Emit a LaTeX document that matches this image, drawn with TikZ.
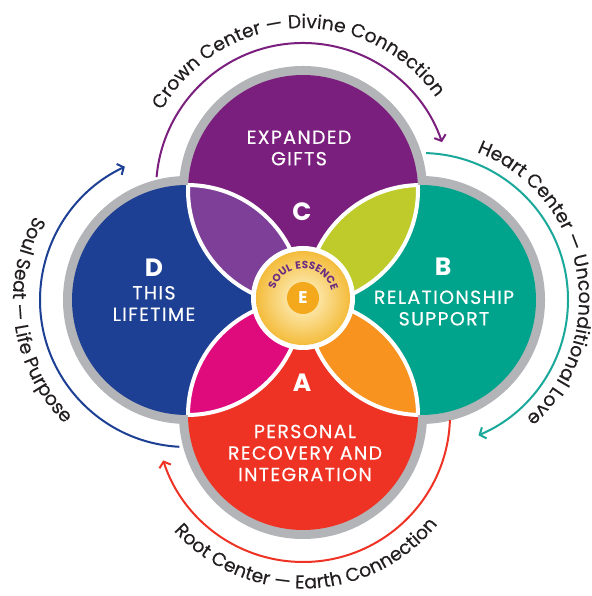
\documentclass[tikz,border=0pt]{standalone}
\usepackage{fontspec}
\setmainfont{Poppins}
\newfontfamily\medfam{Poppins}[FakeBold=0.4,LetterSpace=7]
\newfontfamily\arcfam{Poppins}[FakeBold=0.25]
\newfontfamily\soulfam{Poppins}[LetterSpace=12]
\usetikzlibrary{arrows.meta,decorations.text,calc}
\definecolor{cC}{HTML}{7B1F7E}
\definecolor{cD}{HTML}{1D3F94}
\definecolor{cB}{HTML}{00A38B}
\definecolor{cA}{HTML}{EE3325}
\definecolor{pV}{HTML}{7D3F98}
\definecolor{pL}{HTML}{BFCB2B}
\definecolor{pO}{HTML}{F7931E}
\definecolor{pM}{HTML}{DF0A7C}
\definecolor{ring}{HTML}{B3B4B7}
\definecolor{ateal}{HTML}{1AA89A}
\definecolor{soulc}{HTML}{6B2D82}
\definecolor{eorange}{HTML}{F4A91D}
\definecolor{gold}{HTML}{F4BC3C}
\definecolor{pale}{HTML}{FFF7D2}
\definecolor{txt}{HTML}{231F20}
\newcommand\lblfont{\medfam\fontsize{19}{21.5}\selectfont}
\newcommand\ltrfont{\fontsize{25}{25}\selectfont\bfseries}
\newcommand\arcfont{\arcfam\fontsize{18.8}{19}\selectfont\color{txt}}
\newcommand\soulfont{\soulfam\fontsize{10.5}{11}\selectfont\bfseries\color{soulc}}
\begin{document}
\begin{tikzpicture}[x=1pt,y=1pt,
  lbl/.style={text=white,font=\lblfont,align=center,inner sep=0pt},
  ltr/.style={text=white,font=\ltrfont,inner sep=0pt},
  wline/.style={white,line width=4pt},
  arr/.style={line width=2pt,-{Straight Barb[length=5pt,width=12pt]}},
  arctext/.style={decorate,decoration={text along path,text align=center,text={#1}}}]
\fill[white] (0,0) rectangle (591,596);
\useasboundingbox (0,0) rectangle (591,596);
\def\R{115}
\def\G{124}
\coordinate (O) at (303,298);
\coordinate (N) at (303,406);
\coordinate (S) at (303,181);
\coordinate (W) at (187,296);
\coordinate (E) at (421,296);
% gray rings
\foreach \c in {N,S,W,E} \fill[ring] (\c) circle (\G);
% main discs
\fill[cC] (N) circle (\R);
\fill[cB] (E) circle (\R);
\fill[cA] (S) circle (\R);
\fill[cD] (W) circle (\R);
% petals
\begin{scope}\clip (N) circle (\R); \fill[pV] (W) circle (\R); \fill[pL] (E) circle (\R);\end{scope}
\begin{scope}\clip (S) circle (\R); \fill[pM] (W) circle (\R); \fill[pO] (E) circle (\R);\end{scope}
% white petal borders
\begin{scope}\clip (N) circle (\R); \draw[wline] (W) circle (\R); \draw[wline] (E) circle (\R);\end{scope}
\begin{scope}\clip (S) circle (\R); \draw[wline] (W) circle (\R); \draw[wline] (E) circle (\R);\end{scope}
\begin{scope}\clip (W) circle (\R); \draw[wline] (N) circle (\R); \draw[wline] (S) circle (\R);\end{scope}
\begin{scope}\clip (E) circle (\R); \draw[wline] (N) circle (\R); \draw[wline] (S) circle (\R);\end{scope}
% soul essence
\fill[white] (O) circle (52);
\shade[inner color=pale,outer color=gold] (O) circle (47);
\fill[eorange] (O) circle (16);
\node[ltr,font=\fontsize{17}{17}\selectfont\bfseries] (eL) at (O) {E};
\path[arctext={|\soulfont|SOUL ESSENCE}] ($(O)+(179:29.5)$) arc[start angle=179,end angle=-1,radius=29.5];
% labels
\node[lbl] (cT) at (299,448) {EXPANDED\\GIFTS};
\node[ltr] (cL) at (302,384) {C};
\node[ltr] (dL) at (154,328) {D};
\node[lbl] (dT) at (154,292.5) {THIS\\LIFETIME};
\node[ltr] (bL) at (443,329) {B};
\node[lbl] (bT) at (444,288) {RELATIONSHIP\\SUPPORT};
\node[ltr] (aL) at (302,213) {A};
\node[lbl] (aT) at (305,143) {PERSONAL\\RECOVERY AND\\INTEGRATION};
% arrow arcs
\draw[arr,cC] ($(N)+(175:147)$) arc[start angle=175,end angle=19,radius=147];
\draw[arr,ateal] ($(E)+(88:147)$) arc[start angle=88,end angle=-67,radius=147];
\draw[arr,cA] ($(S)+(-2:147)$) arc[start angle=-2,end angle=-162,radius=147];
\draw[arr,cD] ($(W)+(267:147)$) arc[start angle=267,end angle=115,radius=147];
% arc texts
\path[arctext={|\arcfont|Crown Center — Divine Connection}] ($(N)+(172.7:162)$) arc[start angle=172.7,end angle=12.7,radius=162];
\path[arctext={|\arcfont|Heart Center — Unconditional Love}] ($(E)+(90.5:158)$) arc[start angle=90.5,end angle=-69.5,radius=158];
\path[arctext={|\arcfont|Root Center — Earth Connection}] ($(S)+(-168.6:173.5)$) arc[start angle=-168.6,end angle=-8.6,radius=173.5];
\path[arctext={|\arcfont|Soul Seat — Life Purpose}] ($(W)+(108.2:174)$) arc[start angle=108.2,end angle=268.2,radius=174];
\end{tikzpicture}
\end{document}
